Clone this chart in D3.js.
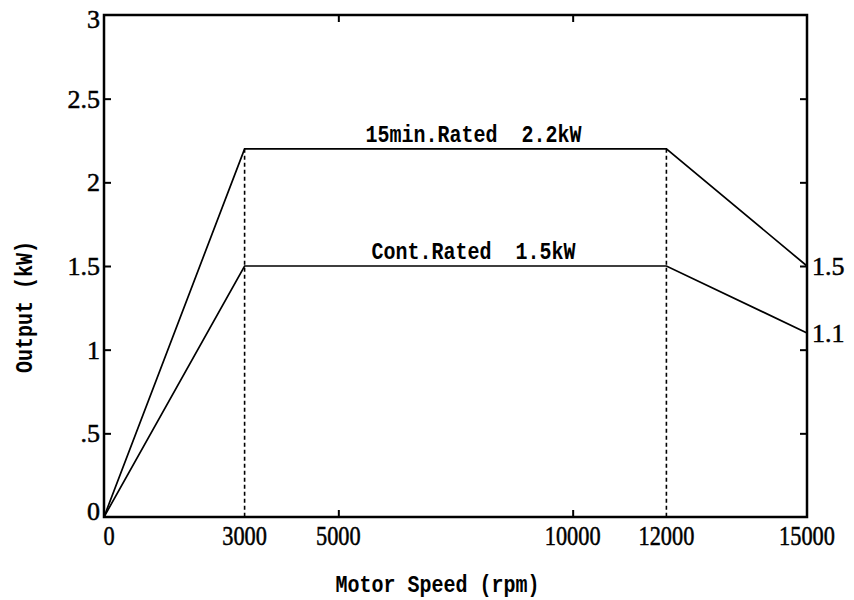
<!DOCTYPE html>
<html>
<head>
<meta charset="utf-8">
<script src="https://cdn.jsdelivr.net/npm/d3@7"></script>
<style>
  html, body { margin: 0; padding: 0; background: #fff; }
  svg { display: block; }
  text { white-space: pre; }
</style>
</head>
<body>
<svg id="chart" width="854" height="600"></svg>
<script>
// Motor output characteristic (kW vs rpm)
const speeds = [0, 3000, 12000, 15000];
const rated15min = [0, 2.2, 2.2, 1.5];
const ratedCont = [0, 1.5, 1.5, 1.1];

const xTickValues = [0, 3000, 5000, 10000, 12000, 15000];
const xTickLabels = ["0", "3000", "5000", "10000", "12000", "15000"];
const xMinorTicks = [5000, 10000];
const yTickValues = [0, 0.5, 1, 1.5, 2, 2.5, 3];
const yTickLabels = ["0", ".5", "1", "1.5", "2", "2.5", "3"];
const cornerSpeeds = [3000, 12000];
const endLabels = ["1.5", "1.1"];
const curveLabels = ["15min.Rated  2.2kW", "Cont.Rated  1.5kW"];

const xTitle = "Motor Speed (rpm)";
const yTitle = "Output (kW)";

const svg = d3.select("#chart");
const m = { left: 104, right: 807, top: 15, bottom: 517 };

const x = d3.scaleLinear().domain([0, 15000]).range([m.left, m.right]);
const y = d3.scaleLinear().domain([0, 3]).range([m.bottom, m.top]);

const serif = "'Liberation Serif', 'Times New Roman', serif";
const mono = "'Liberation Mono', 'DejaVu Sans Mono', monospace";

// dashed verticals at the corner speeds
svg.append("g").selectAll("line")
  .data(cornerSpeeds)
  .join("line")
  .attr("x1", d => x(d)).attr("x2", d => x(d))
  .attr("y1", y(d3.max(rated15min))).attr("y2", y(0))
  .attr("stroke", "#000").attr("stroke-width", 1.6)
  .attr("stroke-dasharray", "4,3");

// curves
const line = d3.line().x((d, i) => x(speeds[i])).y(d => y(d));
[rated15min, ratedCont].forEach(series => {
  svg.append("path")
    .attr("d", line(series))
    .attr("fill", "none")
    .attr("stroke", "#000")
    .attr("stroke-width", 1.7);
});

// frame
svg.append("rect")
  .attr("x", m.left).attr("y", m.top)
  .attr("width", m.right - m.left).attr("height", m.bottom - m.top)
  .attr("fill", "none").attr("stroke", "#000").attr("stroke-width", 2.5);

// inward ticks on all four sides
const tickLen = 7;
const yAxisL = d3.axisRight(y).tickValues(yTickValues.slice(1, -1)).tickSize(tickLen).tickFormat("");
const yAxisR = d3.axisLeft(y).tickValues(yTickValues.slice(1, -1)).tickSize(tickLen).tickFormat("");
const xAxisB = d3.axisTop(x).tickValues(xMinorTicks).tickSize(tickLen).tickFormat("");
const xAxisT = d3.axisBottom(x).tickValues(xMinorTicks).tickSize(tickLen).tickFormat("");

[[yAxisL, `translate(${m.left},0)`], [yAxisR, `translate(${m.right},0)`],
 [xAxisB, `translate(0,${m.bottom})`], [xAxisT, `translate(0,${m.top})`]].forEach(([ax, t]) => {
  const g = svg.append("g").attr("transform", t).call(ax);
  g.select(".domain").remove();
  g.selectAll(".tick line").attr("stroke", "#000").attr("stroke-width", 2);
});

// shared style for the numeric labels
function numStyle(sel) {
  sel.attr("font-family", serif).attr("font-size", 26)
    .attr("fill", "#000").attr("stroke", "#000").attr("stroke-width", 0.5);
}

// y tick labels
svg.append("g").selectAll("text")
  .data(yTickValues)
  .join("text")
  .attr("x", m.left - 4)
  .attr("y", d => Math.min(Math.max(y(d), m.top + 4), m.bottom - 6))
  .attr("dy", "0.34em")
  .attr("text-anchor", "end")
  .call(numStyle)
  .text((d, i) => yTickLabels[i]);

// x tick labels (condensed)
svg.append("g").selectAll("text")
  .data(xTickValues)
  .join("text")
  .attr("transform", d => `translate(${x(d) + (d === 0 ? 5 : 0)},545) scale(0.86,1.03)`)
  .attr("text-anchor", "middle")
  .call(numStyle)
  .text((d, i) => xTickLabels[i]);

// end values on the right
const lastIdx = speeds.length - 1;
svg.append("g").selectAll("text")
  .data([rated15min[lastIdx], ratedCont[lastIdx]])
  .join("text")
  .attr("x", m.right + 5)
  .attr("y", d => y(d))
  .attr("dy", "0.34em")
  .call(numStyle)
  .text((d, i) => endLabels[i]);

// curve labels above the flat segments
svg.append("g").selectAll("text")
  .data([rated15min[1], ratedCont[1]])
  .join("text")
  .attr("transform", d => `translate(${(x(3000) + x(12000)) / 2 + 18},${y(d) - 7}) scale(1,1.2)`)
  .attr("text-anchor", "middle")
  .attr("font-family", mono).attr("font-weight", "bold").attr("font-size", 20)
  .text((d, i) => curveLabels[i]);

// axis titles
svg.append("text")
  .attr("transform", `translate(${(m.left + m.right) / 2 - 18},592) scale(1,1.2)`)
  .attr("text-anchor", "middle")
  .attr("font-family", mono).attr("font-weight", "bold").attr("font-size", 20)
  .text(xTitle);

svg.append("text")
  .attr("transform", `translate(32,${(m.top + m.bottom) / 2 + 41}) rotate(-90) scale(1,1.2)`)
  .attr("text-anchor", "middle")
  .attr("font-family", mono).attr("font-weight", "bold").attr("font-size", 20)
  .text(yTitle);
</script>
</body>
</html>
